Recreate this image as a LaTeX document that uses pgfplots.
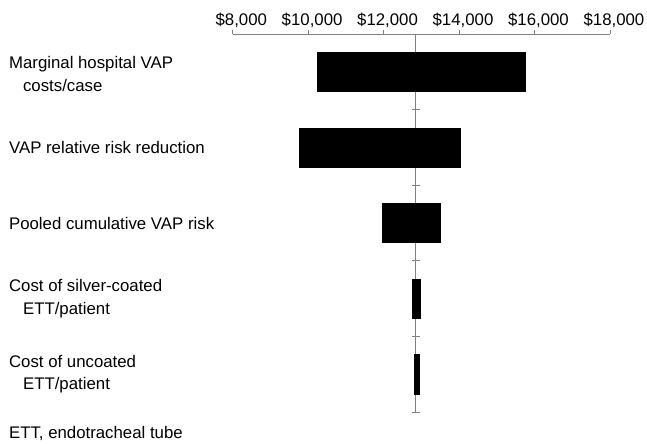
\documentclass[border=0pt]{standalone}
\usepackage{fontspec}
\setmainfont{Liberation Sans}
\usepackage{pgfplots}
\pgfplotsset{compat=1.18}
\definecolor{axgray}{gray}{0.5}
\begin{document}
\begin{tikzpicture}
\useasboundingbox (0,0) rectangle (647bp,444bp);
\begin{axis}[
  at={(232.7bp,410bp)}, anchor=north west,
  scale only axis,
  width=377.3bp, height=378bp,
  xmin=8000, xmax=18000,
  ymin=0.5, ymax=5.5,
  y dir=reverse,
  axis x line*=top,
  axis y line=none,
  axis line style={axgray, line width=0.8pt},
  scaled x ticks=false,
  xtick={8000,10000,12000,14000,16000,18000},
  xticklabels={{\$8,000},{\$10,000},{\$12,000},{\$14,000},{\$16,000},{\$18,000}},
  ytick=\empty,
  tick align=outside,
  major tick length=4bp,
  tick style={axgray, line width=0.8pt},
  xticklabel style={inner sep=0pt, anchor=base east, xshift=34.5bp, yshift=4.5bp},
  font=\fontsize{16.8bp}{22.5bp}\selectfont,
  clip=false,
]
% vertical reference line and its small ticks
\addplot[axgray, line width=0.8pt, sharp plot] coordinates {(12850,0.5) (12850,5.5)};
\addplot[axgray, line width=0.8pt, only marks, mark=-, mark size=4bp] coordinates {(12850,1.5) (12850,2.5) (12850,3.5) (12850,4.5) (12850,5.5)};
% bars: low, high at each category (half height 0.26)
\addplot[fill=black, draw=black] coordinates {(10250,0.74) (15760,0.74) (15760,1.26) (10250,1.26)} --cycle;
\addplot[fill=black, draw=black] coordinates {(9750,1.74) (14020,1.74) (14020,2.26) (9750,2.26)} --cycle;
\addplot[fill=black, draw=black] coordinates {(11950,2.74) (13490,2.74) (13490,3.26) (11950,3.26)} --cycle;
\addplot[fill=black, draw=black] coordinates {(12750,3.74) (12960,3.74) (12960,4.26) (12750,4.26)} --cycle;
\addplot[fill=black, draw=black] coordinates {(12810,4.74) (12935,4.74) (12935,5.26) (12810,5.26)} --cycle;
\node[anchor=west, align=left, yshift=-2bp] at (axis cs:1980,1) {Marginal hospital VAP\\\hspace{14bp}costs/case};
\node[anchor=west, align=left] at (axis cs:1980,2) {VAP relative risk reduction};
\node[anchor=west, align=left] at (axis cs:1980,3) {Pooled cumulative VAP risk};
\node[anchor=west, align=left] at (axis cs:1980,4) {Cost of silver-coated\\\hspace{14bp}ETT/patient};
\node[anchor=west, align=left] at (axis cs:1980,5) {Cost of uncoated\\\hspace{14bp}ETT/patient};
\node[anchor=west, align=left] at (axis cs:1980,5.78) {ETT, endotracheal tube};
\end{axis}
\end{tikzpicture}
\end{document}
